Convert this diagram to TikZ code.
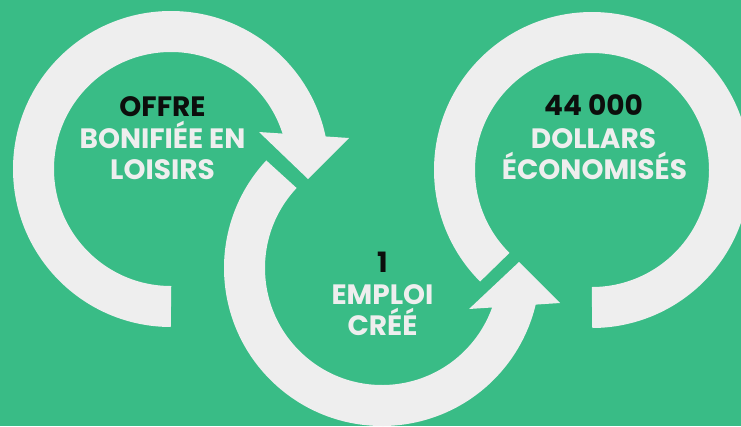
\documentclass[tikz,border=0pt]{standalone}
\usepackage{fontspec}
\setmainfont{Poppins}
\definecolor{bggreen}{RGB}{57,188,134}
\definecolor{ringgray}{RGB}{238,238,238}
\definecolor{darktext}{RGB}{12,14,12}
\begin{document}
\begin{tikzpicture}[x=1pt,y=-1pt,
  band/.style={draw=ringgray,line width=41pt,line cap=butt},
  head/.style={fill=ringgray,draw=none},
  lbl/.style={inner sep=0pt,anchor=base,font=\fontsize{28}{31}\selectfont\bfseries},
  lblw/.style={lbl,text=ringgray},
  lblk/.style={lbl,text=darktext}]
\useasboundingbox (0,0) rectangle (741,426);
\clip (0,0) rectangle (741,426);
\fill[bggreen] (0,0) rectangle (741,426);
% centres
\coordinate (cL) at (171,169);
\coordinate (cM) at (382,268);
\coordinate (cR) at (592,170);
% left ring with arrow
\draw[band] (cL) ++(90:137.5) arc[start angle=90,end angle=350,radius=137.5];
\fill[head] (259,132) -- (349,138) -- (308,179) -- cycle;
% middle ring with arrow
\draw[band] (cM) ++(223:137.5) arc[start angle=223,end angle=10,radius=137.5];
\fill[head] (469,309) -- (560,303) -- (519,262) -- cycle;
% right ring
\draw[band] (cR) ++(135:137.5) arc[start angle=135,end angle=450,radius=137.5];
% texts
\node[lblk] (t1) at (162.5,116) {OFFRE};
\node[lblw] (t2) at (162.5,148) {BONIFIÉE EN};
\node[lblw] (t3) at (162.5,179) {LOISIRS};
\node[lblk] (m1) at (382.5,272) {1};
\node[lblw] (m2) at (382.5,304) {EMPLOI};
\node[lblw] (m3) at (382.5,335) {CRÉÉ};
\node[lblk] (r1) at (593.5,115) {44 000};
\node[lblw] (r2) at (593.5,148) {DOLLARS};
\node[lblw] (r3) at (594.5,179) {ÉCONOMISÉS};
\end{tikzpicture}
\end{document}
